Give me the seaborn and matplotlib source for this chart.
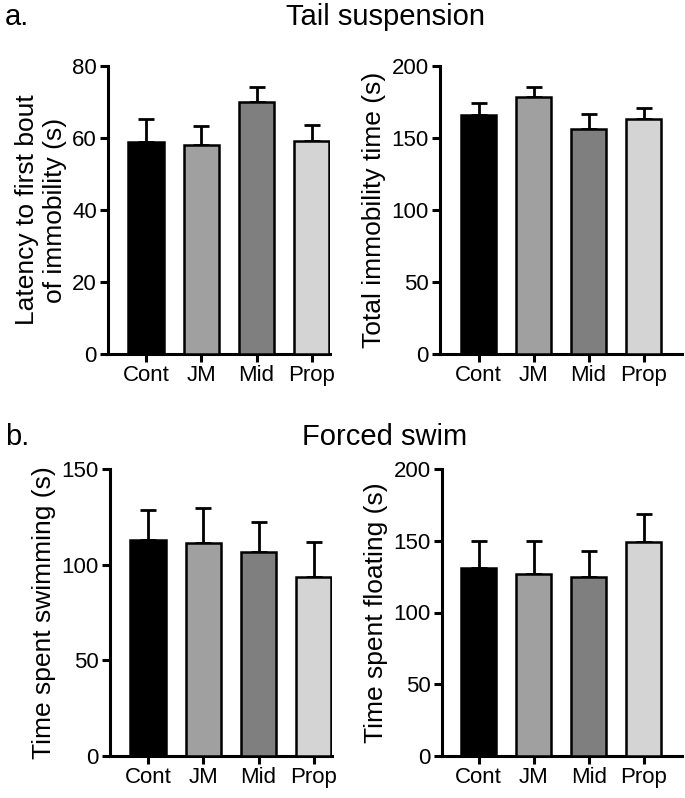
import numpy as np
import matplotlib

matplotlib.use('Agg')
import matplotlib.pyplot as plt
import seaborn as sns

groups = ["Cont", "JM", "Mid", "Prop"]
bar_colors = ["#000000", "#a0a0a0", "#7f7f7f", "#d4d4d4"]

# tail suspension
latency_mean = [58.8, 58.1, 69.9, 59.3]
latency_sem = [6.4, 5.3, 4.3, 4.4]
immob_mean = [165.8, 178.5, 156.3, 163.5]
immob_sem = [8.5, 7.2, 10.6, 7.4]

# forced swim
swim_mean = [112.9, 111.2, 106.8, 93.4]
swim_sem = [15.7, 18.6, 15.7, 18.5]
float_mean = [130.8, 127.0, 124.7, 149.4]
float_sem = [18.9, 22.7, 18.0, 19.4]

sns.set_style("ticks")
plt.rcParams['font.family'] = ['Liberation Sans', 'DejaVu Sans']
plt.rcParams.update({"text.color": "black", "axes.labelcolor": "black",
                     "xtick.color": "black", "ytick.color": "black",
                     "axes.edgecolor": "black"})

W, H = 685, 798
fig = plt.figure(figsize=(W / 100, H / 100), dpi=100)


def px_axes(left, top, right, bottom):
    return fig.add_axes([left / W, 1 - bottom / H, (right - left) / W, (bottom - top) / H])


def draw_panel(ax, means, sems, ylim, yticks, ylabel, xlim):
    sns.barplot(x=groups, y=means, hue=groups, palette=bar_colors, legend=False,
                width=0.64, edgecolor="black", linewidth=1.8, saturation=1, ax=ax, zorder=3)
    ax.errorbar(np.arange(len(groups)), means, yerr=[np.zeros(len(sems)), sems],
                fmt="none", ecolor="black", elinewidth=2, capsize=6, capthick=2, zorder=2)
    ax.set_ylim(*ylim)
    ax.set_yticks(yticks)
    ax.set_xlim(*xlim)
    ax.set_ylabel(ylabel, fontsize=19, labelpad=4)
    ax.set_xlabel("")
    sns.despine(ax=ax)
    for s in ["left", "bottom"]:
        ax.spines[s].set_linewidth(2.2)
    ax.tick_params(axis="both", labelsize=16, width=2.2, length=6, pad=2, color="black")


ax1 = px_axes(108, 66, 330, 354)
draw_panel(ax1, latency_mean, latency_sem, (0, 80), [0, 20, 40, 60, 80],
           "Latency to first bout\nof immobility (s)", (-0.69, 3.33))
ax2 = px_axes(440, 66, 682, 354)
draw_panel(ax2, immob_mean, immob_sem, (0, 200), [0, 50, 100, 150, 200],
           "Total immobility time (s)", (-0.7, 3.7))
ax3 = px_axes(110, 469, 332, 756)
draw_panel(ax3, swim_mean, swim_sem, (0, 150), [0, 50, 100, 150],
           "Time spent swimming (s)", (-0.69, 3.33))
ax4 = px_axes(442, 469, 682, 756)
draw_panel(ax4, float_mean, float_sem, (0, 200), [0, 50, 100, 150, 200],
           "Time spent floating (s)", (-0.67, 3.7))

fig.text(5 / W, 1 - 17 / H, "a.", fontsize=21, va="center", ha="left")
fig.text(385 / W, 1 - 17 / H, "Tail suspension", fontsize=21, va="center", ha="center")
fig.text(5 / W, 1 - 437 / H, "b.", fontsize=21, va="center", ha="left")
fig.text(385 / W, 1 - 437 / H, "Forced swim", fontsize=21, va="center", ha="center")

plt.savefig("out.png", dpi=100)
